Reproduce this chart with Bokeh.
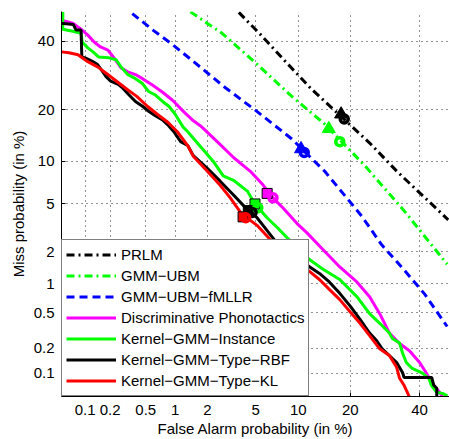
import math
from statistics import NormalDist
from bokeh.plotting import figure
from bokeh.models import (Range1d, FixedTicker, CustomJSTickFormatter, Legend,
                          LegendItem)
from bokeh.embed import file_html
from bokeh.resources import INLINE

# ---------------- data (percent) ----------------
tick_pct = [0.1, 0.2, 0.5, 1, 2, 5, 10, 20, 40]
tick_labels = ["0.1", "0.2", "0.5", "1", "2", "5", "10", "20", "40"]

prlm_fa = [3.7, 5.5, 8, 12, 18.2, 25, 33, 42, 49.6]
prlm_miss = [49.7, 42, 34, 25.5, 18.2, 13, 8.5, 5.5, 3.75]

gmm_fa = [1.40, 2.69, 5.2, 9.06, 14.5, 23.6, 35.1, 49.2]
gmm_miss = [49.9, 42.6, 32.4, 23.4, 16.8, 9.4, 4.4, 1.54]

fmllr_fa = [0.357, 0.60, 0.956, 1.72, 2.85, 5.2, 9.06, 14.5, 22.8, 28.2, 35.1, 41.6, 49.2]
fmllr_miss = [49.3, 43.6, 38.7, 31.8, 25.8, 19.5, 13.8, 8.6, 4.03, 2.32, 1.35, 0.79, 0.355]

disc_fa = [0.05, 0.07, 0.089, 0.108, 0.129, 0.154, 0.188, 0.222, 0.267, 0.317, 0.387,
           0.461, 0.593, 0.748, 0.942, 1.22, 1.46, 1.74, 2.44, 3.35, 4.56, 5.7, 6.72,
           7.88, 9.77, 11.3, 14.1, 17.6, 21.6, 24.9, 27.7, 30.5, 33.6, 36.7, 40, 42.2,
           44, 46.6, 47.6]
disc_miss = [47.0, 46.0, 44.0, 42.0, 39.7, 38.1, 37.1, 34.6, 31.5, 30.3, 29.5, 28.3,
             26.4, 24.5, 22.4, 19.5, 17.7, 16.4, 13.3, 10.6, 8.6, 6.9, 5.56, 4.67, 3.51,
             2.94, 2.11, 1.45, 1.04, 0.74, 0.49, 0.30, 0.227, 0.187, 0.135, 0.1, 0.076,
             0.057, 0.05]

inst_fa = [0.052, 0.052, 0.07, 0.089, 0.092, 0.108, 0.125, 0.146, 0.193, 0.235, 0.267,
           0.317, 0.387, 0.461, 0.536, 0.636, 0.748, 0.865, 1.0, 1.19, 1.32, 1.74, 2.26,
           2.75, 3.35, 4.32, 4.95, 6.09, 7.17, 8.8, 11.8, 14.1, 17.6, 21.6, 24.9, 27.7,
           30.5, 31.4, 33.6, 34.5, 35.7, 37.6, 40.9, 43.0, 43.9, 45.6, 47.6, 49.3]
inst_miss = [49.9, 44.0, 43.3, 42.6, 39.7, 37.8, 36.5, 34.9, 34.6, 34.0, 31.8, 29.5,
             28.3, 26.9, 24.7, 23.7, 22.1, 20.9, 19.0, 16.2, 15.2, 12.4, 10.0, 8.0, 7.46,
             6.24, 5.0, 3.9, 3.26, 2.51, 1.69, 1.39, 1.1, 0.74, 0.49, 0.385, 0.30, 0.26,
             0.23, 0.177, 0.135, 0.114, 0.1, 0.086, 0.07, 0.057, 0.055, 0.051]

rbf_fa = [0.05, 0.071, 0.077, 0.089, 0.091, 0.1, 0.125, 0.142, 0.164, 0.179, 0.203,
          0.248, 0.28, 0.325, 0.387, 0.461, 0.536, 0.636, 0.748, 0.865, 0.97, 1.13,
          1.32, 1.49, 2.0, 2.59, 3.35, 4.32, 5.13, 5.69, 7.1, 11.8, 13.5, 15.4, 17.6,
          20.0, 22.4, 24.9, 26.8, 28.4, 30.5, 32.7, 34.6, 35.0, 44.0, 44.7, 45.7, 45.7]
rbf_miss = [46.0, 45.6, 43.7, 43.7, 34.9, 34.6, 33.4, 32.5, 30.3, 28.9, 27.6, 26.7,
            25.6, 23.9, 22.1, 20.9, 19.7, 18.6, 17.7, 16.4, 15.2, 13.3, 12.6, 10.9, 9.0,
            7.35, 5.84, 4.52, 3.9, 3.38, 2.42, 1.45, 1.26, 1.04, 0.80, 0.59, 0.426, 0.3,
            0.246, 0.197, 0.164, 0.135, 0.1, 0.088, 0.088, 0.07, 0.064, 0.05]

kl_fa = [0.05, 0.0625, 0.0815, 0.108, 0.142, 0.188, 0.248, 0.317, 0.4, 0.52, 0.66,
         0.845, 1.05, 1.32, 1.49, 2.0, 2.59, 3.15, 3.6, 4.0, 4.56, 5.13, 6.72, 11.8,
         13.5, 15.4, 17.6, 20.0, 22.4, 24.9, 27.7, 30.5, 32.7, 33.6, 35, 36, 36.7]
kl_miss = [36.5, 36.2, 35.6, 33.4, 31.8, 29.5, 27.2, 25.2, 23.4, 20.9, 19.0, 17.2, 15.2,
           12.6, 10.8, 8.6, 6.88, 5.56, 4.67, 4.04, 3.71, 3.38, 2.42, 1.31, 1.1, 0.877,
           0.69, 0.51, 0.385, 0.28, 0.197, 0.164, 0.118, 0.086, 0.07, 0.057, 0.049]

# operating points (FA %, Miss %)
tri_fa = [17.9, 15.3, 10.4]
tri_miss = [19.0, 15.8, 12.0]
tri_colors = ["black", "#00ff00", "#0000ff"]

sq_fa = [6.1, 4.95, 4.4, 4.0]
sq_miss = [6.0, 5.0, 4.44, 3.96]
sq_colors = ["#ff00ff", "#00ff00", "black", "#ff0000"]

circ_fa = [18.6, 17.6, 10.9, 6.72, 5.2, 4.7, 4.2]
circ_miss = [17.9, 13.3, 11.4, 5.56, 4.67, 4.3, 3.9]
circ_colors = ["black", "#00ff00", "#0000ff", "#ff00ff", "#00ff00", "black", "#ff0000"]

labels = ["PRLM", "GMM\u2212UBM", "GMM\u2212UBM\u2212fMLLR", "Discriminative Phonotactics",
          "Kernel\u2212GMM\u2212Instance", "Kernel\u2212GMM\u2212Type\u2212RBF",
          "Kernel\u2212GMM\u2212Type\u2212KL"]

# ---------------- plot ----------------
nd = NormalDist()


def pz(vals):
    return [nd.inv_cdf(min(max(v, 1e-4), 99.99) / 100.0) for v in vals]


FONT = "Liberation Sans"
lo = nd.inv_cdf(0.0005)

p = figure(width=449, height=439, output_backend="svg", toolbar_location=None,
           x_range=Range1d(lo, 0.0), y_range=Range1d(lo, 0.0),
           min_border_left=61, min_border_right=0, min_border_top=11,
           min_border_bottom=38)
p.outline_line_color = None
p.background_fill_color = "white"
p.border_fill_color = "white"

ticks = pz(tick_pct)
fmt_code = """
let best = 0;
for (let i = 0; i < vals.length; i++) {
  if (Math.abs(vals[i] - tick) < Math.abs(vals[best] - tick)) best = i;
}
return labels[best];
"""
for ax in (p.xaxis[0], p.yaxis[0]):
    ax.ticker = FixedTicker(ticks=ticks)
    ax.formatter = CustomJSTickFormatter(args=dict(vals=ticks, labels=tick_labels),
                                         code=fmt_code)
    ax.major_tick_in = 4
    ax.major_tick_out = 0
    ax.minor_tick_in = 0
    ax.minor_tick_out = 0
    ax.axis_line_color = "black"
    ax.major_tick_line_color = "black"
    ax.major_label_text_font = FONT
    ax.major_label_text_font_size = "15px"
    ax.major_label_text_color = "black"
    ax.axis_label_text_font = FONT
    ax.axis_label_text_font_size = "15px"
    ax.axis_label_text_font_style = "normal"
    ax.axis_label_text_color = "black"

p.xaxis.major_label_standoff = 8
p.yaxis.major_label_standoff = 7

p.xaxis.axis_label = "False Alarm probability (in %)"
p.xaxis.axis_label_standoff = 2
p.yaxis.axis_label = "Miss probability (in %)"
p.yaxis.axis_label_standoff = 4

for g in (p.xgrid[0], p.ygrid[0]):
    g.grid_line_color = "black"
    g.grid_line_alpha = 0.85
    g.grid_line_dash = "1 4"
    g.grid_line_width = 1

r_prlm = p.line(pz(prlm_fa), pz(prlm_miss), line_color="black", line_width=3,
                line_dash="8 4 2 4")
r_gmm = p.line(pz(gmm_fa), pz(gmm_miss), line_color="#00ff00", line_width=3,
               line_dash="8 4 2 4")
r_fmllr = p.line(pz(fmllr_fa), pz(fmllr_miss), line_color="#0000ff", line_width=3,
                 line_dash="8 5")
r_disc = p.line(pz(disc_fa), pz(disc_miss), line_color="#ff00ff", line_width=3)
r_inst = p.line(pz(inst_fa), pz(inst_miss), line_color="#00ff00", line_width=3)
r_rbf = p.line(pz(rbf_fa), pz(rbf_miss), line_color="black", line_width=3)
r_kl = p.line(pz(kl_fa), pz(kl_miss), line_color="#ff0000", line_width=3)

p.scatter(pz(tri_fa), pz(tri_miss), marker="triangle", size=13, fill_color=tri_colors,
          line_color=tri_colors, line_width=1)
p.scatter(pz(sq_fa), pz(sq_miss), marker="square", size=10, fill_color=sq_colors,
          line_color="black", line_width=1)
p.scatter(pz(circ_fa), pz(circ_miss), marker="circle", size=8, fill_alpha=0,
          line_color=circ_colors, line_width=3.5)

renderers = [r_prlm, r_gmm, r_fmllr, r_disc, r_inst, r_rbf, r_kl]
legend = Legend(items=[LegendItem(label=l, renderers=[r]) for l, r in zip(labels, renderers)],
                location="bottom_left", margin=0, padding=4, spacing=0,
                label_height=21, glyph_height=21, glyph_width=50, label_standoff=5,
                border_line_color="black", border_line_width=1.5,
                background_fill_color="white", background_fill_alpha=1.0,
                label_text_font=FONT, label_text_font_size="15px",
                label_text_color="black")
p.add_layout(legend)

open("out.html", "w").write(file_html(p, INLINE))
